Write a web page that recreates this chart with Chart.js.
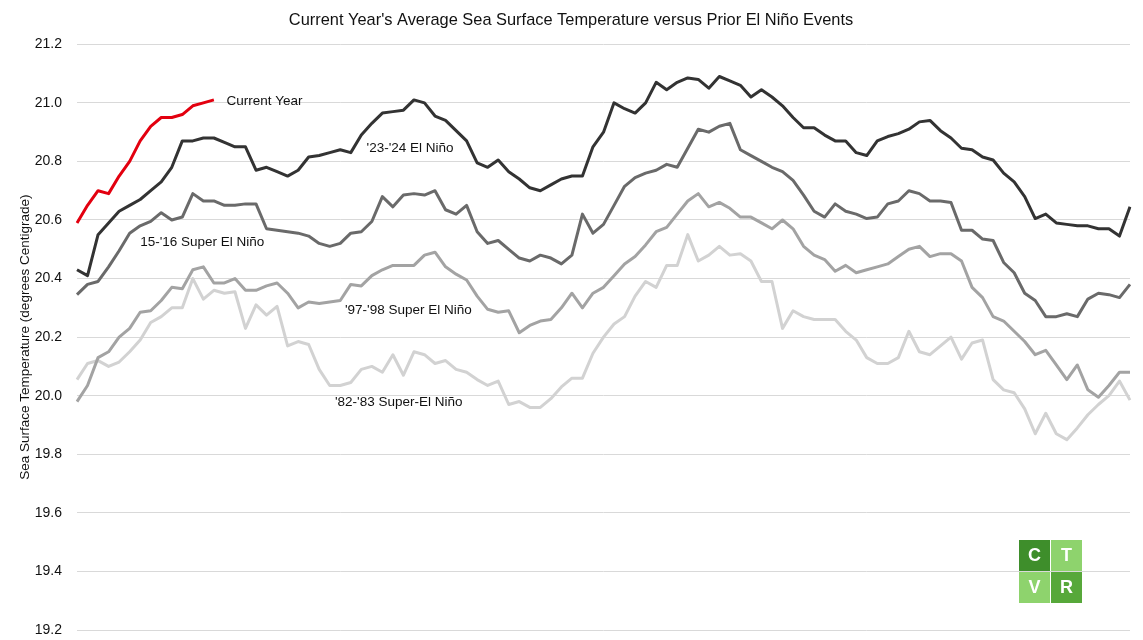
<!DOCTYPE html>
<html>
<head>
<meta charset="utf-8">
<script src="https://cdn.jsdelivr.net/npm/chart.js@4/dist/chart.umd.min.js"></script>
<style>
  body { margin: 0; background: #fff; }
  #wrap { width: 1143px; height: 640px; }
</style>
</head>
<body>
<div id="wrap"><canvas id="Chart"></canvas></div>
<script>
// sampled roughly every 3.6 days across the season
let days = Array.from({length: 101}, (_, i) => 'pt' + i);

let currentYear = [20.59,20.65,20.70,20.69,20.75,20.80,20.87,20.92,20.95,20.95,
  20.96,20.99,21.00,21.01];

let elNino2324 = [20.43,20.41,20.55,20.59,20.63,20.65,20.67,20.70,20.73,20.78,
  20.87,20.87,20.88,20.88,20.865,20.85,20.85,20.77,20.78,20.765,
  20.75,20.77,20.815,20.82,20.83,20.84,20.83,20.89,20.93,20.965,
  20.97,20.975,21.01,21.00,20.955,20.94,20.905,20.87,20.795,20.78,
  20.805,20.765,20.74,20.71,20.70,20.72,20.74,20.75,20.75,20.85,
  20.90,21.00,20.98,20.965,21.00,21.07,21.045,21.07,21.085,21.08,
  21.05,21.09,21.075,21.06,21.02,21.045,21.02,20.99,20.95,20.915,
  20.915,20.89,20.87,20.87,20.83,20.82,20.87,20.885,20.895,20.91,
  20.935,20.94,20.905,20.88,20.845,20.84,20.815,20.805,20.76,20.73,
  20.68,20.605,20.62,20.59,20.585,20.58,20.58,20.57,20.57,20.545,20.645];

let elNino1516 = [20.345,20.38,20.39,20.44,20.495,20.555,20.58,20.595,20.625,20.60,
  20.61,20.69,20.665,20.665,20.65,20.65,20.655,20.655,20.57,20.565,
  20.56,20.555,20.545,20.52,20.51,20.52,20.555,20.56,20.595,20.68,
  20.645,20.685,20.69,20.685,20.70,20.635,20.62,20.65,20.56,20.52,
  20.53,20.50,20.47,20.46,20.48,20.47,20.45,20.48,20.62,20.555,
  20.585,20.65,20.715,20.745,20.76,20.77,20.79,20.78,20.845,20.91,
  20.90,20.92,20.93,20.84,20.82,20.80,20.78,20.765,20.735,20.685,
  20.63,20.61,20.655,20.63,20.62,20.605,20.61,20.655,20.665,20.70,
  20.69,20.665,20.665,20.66,20.565,20.565,20.535,20.53,20.455,20.42,
  20.35,20.325,20.27,20.27,20.28,20.27,20.33,20.35,20.345,20.335,20.38];

let elNino9798 = [19.98,20.035,20.13,20.15,20.20,20.23,20.285,20.29,20.325,20.37,
  20.365,20.43,20.44,20.385,20.385,20.40,20.36,20.36,20.375,20.385,
  20.35,20.30,20.32,20.315,20.32,20.325,20.38,20.375,20.41,20.43,
  20.445,20.445,20.445,20.48,20.49,20.44,20.415,20.395,20.34,20.295,
  20.285,20.29,20.215,20.24,20.255,20.26,20.30,20.35,20.30,20.35,
  20.37,20.41,20.45,20.475,20.515,20.56,20.575,20.62,20.665,20.69,
  20.645,20.66,20.64,20.61,20.61,20.59,20.57,20.60,20.57,20.51,
  20.48,20.465,20.425,20.445,20.42,20.43,20.44,20.45,20.475,20.50,
  20.51,20.475,20.485,20.485,20.46,20.37,20.335,20.27,20.255,20.22,
  20.185,20.14,20.155,20.105,20.055,20.105,20.02,19.995,20.035,20.08,20.08];

let elNino8283 = [20.055,20.11,20.12,20.10,20.115,20.15,20.19,20.25,20.27,20.30,
  20.30,20.40,20.33,20.36,20.35,20.355,20.23,20.31,20.275,20.305,
  20.17,20.185,20.175,20.09,20.035,20.035,20.045,20.09,20.10,20.08,
  20.14,20.07,20.15,20.14,20.11,20.12,20.09,20.08,20.055,20.035,
  20.05,19.97,19.98,19.96,19.96,19.99,20.03,20.06,20.06,20.145,
  20.20,20.245,20.27,20.34,20.39,20.37,20.445,20.445,20.55,20.46,
  20.48,20.51,20.48,20.485,20.46,20.39,20.39,20.23,20.29,20.27,
  20.26,20.26,20.26,20.22,20.19,20.13,20.11,20.11,20.13,20.22,
  20.15,20.14,20.17,20.20,20.125,20.18,20.19,20.055,20.02,20.01,
  19.955,19.87,19.94,19.87,19.85,19.89,19.935,19.97,20.00,20.05,19.985];

let yTicks = [19.2,19.4,19.6,19.8,20.0,20.2,20.4,20.6,20.8,21.0,21.2];

// label text, index on the x axis, value on the y axis
let seriesLabels = [
  ['Current Year', 14.2, 21.005],
  ["'23-'24 El Niño", 27.5, 20.846],
  ["15-'16 Super El Niño", 6.0, 20.525],
  ["'97-'98 Super El Niño", 25.45, 20.293],
  ["'82-'83 Super-El Niño", 24.5, 19.976]
];

const FONT = "'Liberation Sans', Arial, sans-serif";

let labelPlugin = {
  id: 'lineLabels',
  afterDatasetsDraw(chart) {
    let ctx = chart.ctx, xs = chart.scales.x, ys = chart.scales.y;
    ctx.save();
    ctx.font = '13.5px ' + FONT;
    ctx.fillStyle = '#111';
    ctx.textBaseline = 'middle';
    ctx.textAlign = 'left';
    seriesLabels.forEach(l => {
      let x0 = xs.getPixelForValue(Math.floor(l[1]));
      let x1 = xs.getPixelForValue(Math.floor(l[1]) + 1);
      let x = x0 + (x1 - x0) * (l[1] - Math.floor(l[1]));
      ctx.fillText(l[0], x, ys.getPixelForValue(l[2]));
    });
    ctx.restore();
  }
};

let logoPlugin = {
  id: 'ctvrLogo',
  afterDraw(chart) {
    let ctx = chart.ctx, a = chart.chartArea;
    let s = 31, g = 1;
    let x = a.right - 111, y = a.bottom - 90;
    let cells = [['C', '#3e8e2b', 0, 0], ['T', '#8ed36d', 1, 0], ['V', '#8ed36d', 0, 1], ['R', '#57a83a', 1, 1]];
    ctx.save();
    ctx.font = 'bold 18px Arial, "Liberation Sans", sans-serif';
    ctx.textAlign = 'center';
    ctx.textBaseline = 'middle';
    cells.forEach(c => {
      let cx = x + c[2] * (s + g), cy = y + c[3] * (s + g);
      ctx.fillStyle = c[1];
      ctx.fillRect(cx, cy, s, s);
      ctx.fillStyle = '#fff';
      ctx.fillText(c[0], cx + s / 2, cy + s / 2 + 1);
    });
    ctx.restore();
  }
};

let graph = document.getElementById('Chart');

let chartData = {
  type: 'line',
  data: {
    labels: days,
    datasets: [
      { label: 'Current Year', data: currentYear, borderColor: '#e3000f' },
      { label: "'23-'24 El Niño", data: elNino2324, borderColor: '#333333' },
      { label: "15-'16 Super El Niño", data: elNino1516, borderColor: '#6a6a6a' },
      { label: "'97-'98 Super El Niño", data: elNino9798, borderColor: '#a3a3a3' },
      { label: "'82-'83 Super-El Niño", data: elNino8283, borderColor: '#d2d2d2' }
    ]
  },
  options: {
    responsive: true,
    maintainAspectRatio: false,
    animation: false,
    layout: { padding: { left: 12, right: 13, top: 0, bottom: 10 } },
    elements: {
      point: { radius: 0 },
      line: { borderWidth: 3, tension: 0, borderJoinStyle: 'round' }
    },
    plugins: {
      legend: { display: false },
      tooltip: { enabled: false },
      title: {
        display: true,
        text: "Current Year's Average Sea Surface Temperature versus Prior El Niño Events",
        color: '#111',
        font: { family: FONT, size: 16.4, weight: 'normal' },
        padding: { top: 11, bottom: 13.6 }
      }
    },
    scales: {
      x: { display: false, offset: false },
      y: {
        min: 19.2,
        max: 21.2,
        afterBuildTicks: s => { s.ticks = yTicks.map(v => ({ value: v })); },
        afterFit: s => { s.width = 65; s.paddingTop = 0; s.paddingBottom = 0; },
        border: { display: false },
        grid: { color: '#d9d9d9', drawTicks: false, lineWidth: 1 },
        ticks: {
          padding: 15,
          color: '#111',
          font: { family: FONT, size: 14 },
          callback: v => v.toFixed(1)
        },
        title: {
          display: true,
          text: 'Sea Surface Temperature (degrees Centigrade)',
          color: '#111',
          font: { family: FONT, size: 13.5 },
          padding: { top: 5, bottom: 0 }
        }
      }
    }
  },
  plugins: [labelPlugin, logoPlugin]
};

let presentdata = new Chart(graph, chartData);
</script>
</body>
</html>
